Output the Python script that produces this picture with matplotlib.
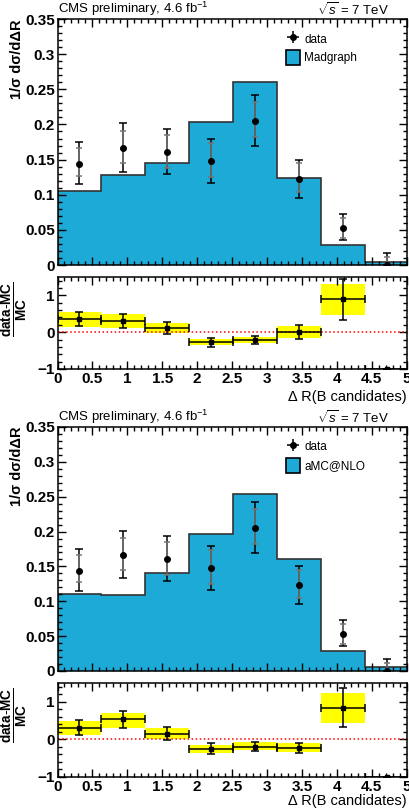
import matplotlib.pyplot as plt
import numpy as np

plt.rcParams['font.family'] = ['Liberation Sans', 'DejaVu Sans']
plt.rcParams['mathtext.fontset'] = 'custom'
plt.rcParams['mathtext.rm'] = 'Liberation Sans'
plt.rcParams['mathtext.it'] = 'Liberation Sans:italic'
plt.rcParams['mathtext.bf'] = 'Liberation Sans:bold'

# bins in Delta R (width pi/5)
edges = np.pi / 5 * np.arange(9)
centers = 0.5 * (edges[:-1] + edges[1:])
half_w = 0.5 * (edges[1] - edges[0])

# unfolded data (same in both panels)
data = np.array([0.144, 0.167, 0.161, 0.148, 0.205, 0.123, 0.053, 0.0])
data_tot_lo = np.array([0.115, 0.133, 0.129, 0.116, 0.169, 0.096, 0.036, 0.0])
data_tot_hi = np.array([0.1745, 0.2015, 0.194, 0.180, 0.242, 0.150, 0.0725, 0.0166])
data_in_lo = np.array([0.127, 0.1446, 0.138, 0.125, 0.1825, 0.104, 0.039, 0.0])
data_in_hi = np.array([0.166, 0.191, 0.185, 0.173, 0.232, 0.145, 0.067, 0.012])

# MC predictions
madgraph = np.array([0.106, 0.128, 0.145, 0.203, 0.260, 0.124, 0.028, 0.004])
amcnlo = np.array([0.110, 0.109, 0.140, 0.196, 0.2535, 0.160, 0.029, 0.006])

# ratio panels: error bars and yellow bands
mg_ratio_err_up = np.array([0.20, 0.18, 0.17, 0.12, 0.10, 0.19, 0.54, 0.0])
mg_ratio_err_dn = np.array([0.20, 0.18, 0.17, 0.12, 0.10, 0.19, 0.55, 0.0])
mg_band_lo = np.array([0.15, 0.12, -0.03, -0.36, -0.30, -0.16, 0.47, -1.0])
mg_band_hi = np.array([0.54, 0.49, 0.26, -0.18, -0.14, 0.18, 1.31, -1.0])

amc_ratio_err_up = np.array([0.20, 0.23, 0.18, 0.14, 0.12, 0.14, 0.53, 0.0])
amc_ratio_err_dn = np.array([0.20, 0.23, 0.18, 0.14, 0.12, 0.14, 0.51, 0.0])
amc_band_lo = np.array([0.11, 0.31, 0.00, -0.36, -0.29, -0.34, 0.43, -1.0])
amc_band_hi = np.array([0.48, 0.71, 0.31, -0.15, -0.07, -0.10, 1.22, -1.0])

fill_col = '#1DAAD6'
tick_fs = 11


def style_axis(ax):
    ax.tick_params(which='both', direction='in', top=True, right=True, width=1)
    ax.tick_params(which='major', length=6, pad=2)
    ax.tick_params(which='minor', length=3)
    for s in ax.spines.values():
        s.set_linewidth(1.1)
    for lab in ax.get_xticklabels() + ax.get_yticklabels():
        lab.set_fontweight('bold')
        lab.set_fontsize(tick_fs)


def draw_panel(fig, main_rect, ratio_rect, mc, mc_label, r_up, r_dn, b_lo, b_hi, xlab_y):
    ax = fig.add_axes(main_rect)
    ax.stairs(mc, edges, fill=True, color=fill_col)
    ax.stairs(mc, edges, color='#333333', lw=1.2)
    ax.errorbar(centers, data, yerr=[data - data_tot_lo, data_tot_hi - data],
                fmt='o', color='black', ms=4, lw=1.1, capsize=3, capthick=1.1)
    ax.errorbar(centers, data, yerr=[data - data_in_lo, data_in_hi - data],
                fmt='none', ecolor='#777777', lw=1.1, capsize=2.5, capthick=1.1)
    ax.set_xlim(0, 5)
    ax.set_ylim(0, 0.35)
    ax.set_xticks(np.arange(0, 5.01, 0.5))
    ax.set_xticks(np.arange(0, 5.01, 0.1), minor=True)
    ax.set_yticks(np.arange(0, 0.351, 0.05))
    ax.set_yticks(np.arange(0, 0.351, 0.01), minor=True)
    ax.set_yticklabels(['0', '0.05', '0.1', '0.15', '0.2', '0.25', '0.3', '0.35'])
    ax.tick_params(labelbottom=False)
    style_axis(ax)
    ax.set_ylabel('1/σ dσ/dΔR', loc='top', fontsize=10.5, fontweight='bold')
    ax.yaxis.set_label_coords(-0.095, 1.0)
    ax.text(0.0, 1.004, 'CMS preliminary, 4.6 fb$^{-1}$', transform=ax.transAxes,
            fontsize=9.5, ha='left', va='bottom')
    ax.text(0.95, 1.004, r'$\sqrt{s}$ = 7 TeV', transform=ax.transAxes,
            fontsize=9.5, ha='right', va='bottom')

    h_data = ax.errorbar(np.nan, np.nan, xerr=1, yerr=1, fmt='o', color='black',
                         ms=4, lw=1.1, capsize=0)
    h_mc = plt.Rectangle((0, 0), 1, 1, facecolor=fill_col, edgecolor='black', lw=1.2)
    ax.legend([h_data, h_mc], ['data', mc_label], loc='upper left',
              bbox_to_anchor=(0.64, 0.97), frameon=False, fontsize=8.5,
              handlelength=1.2, handleheight=1.6, handletextpad=0.35,
              labelspacing=0.3, borderaxespad=0)

    rx = fig.add_axes(ratio_rect)
    rx.bar(centers, b_hi - b_lo, bottom=b_lo, width=2 * half_w, color='yellow',
           edgecolor='none')
    rx.axhline(0, color='red', ls=':', lw=1.1)
    ratio = data / mc - 1
    rx.errorbar(centers, ratio, xerr=half_w, yerr=[r_dn, r_up], fmt='s',
                color='black', ms=2.5, lw=1.1, capsize=3, capthick=1.1)
    rx.set_xlim(0, 5)
    rx.set_ylim(-1, 1.5)
    rx.set_xticks(np.arange(0, 5.01, 0.5))
    rx.set_xticks(np.arange(0, 5.01, 0.1), minor=True)
    rx.set_xticklabels(['0', '0.5', '1', '1.5', '2', '2.5', '3', '3.5', '4', '4.5', '5'])
    rx.set_yticks([-1, 0, 1])
    rx.set_yticks(np.arange(-1, 1.51, 0.2), minor=True)
    style_axis(rx)
    rx.set_ylabel(r'$\mathbf{\frac{data\text{-}MC}{MC}}$', loc='top', fontsize=14)
    rx.yaxis.set_label_coords(-0.075, 0.96)
    rx.set_xlabel('Δ R(B candidates)', loc='right', fontsize=10.5)
    rx.xaxis.set_label_coords(1.0, xlab_y)


fig = plt.figure(figsize=(4.09, 8.09), dpi=100)

draw_panel(fig, [0.1406, 0.6724, 0.854, 0.3041], [0.1406, 0.5439, 0.854, 0.1137],
           madgraph, 'Madgraph', mg_ratio_err_up, mg_ratio_err_dn, mg_band_lo, mg_band_hi,
           -0.23)
draw_panel(fig, [0.1406, 0.1706, 0.854, 0.3016], [0.1406, 0.0396, 0.854, 0.1162],
           amcnlo, 'aMC@NLO', amc_ratio_err_up, amc_ratio_err_dn, amc_band_lo, amc_band_hi,
           -0.18)

fig.savefig('out.png', dpi=100)
